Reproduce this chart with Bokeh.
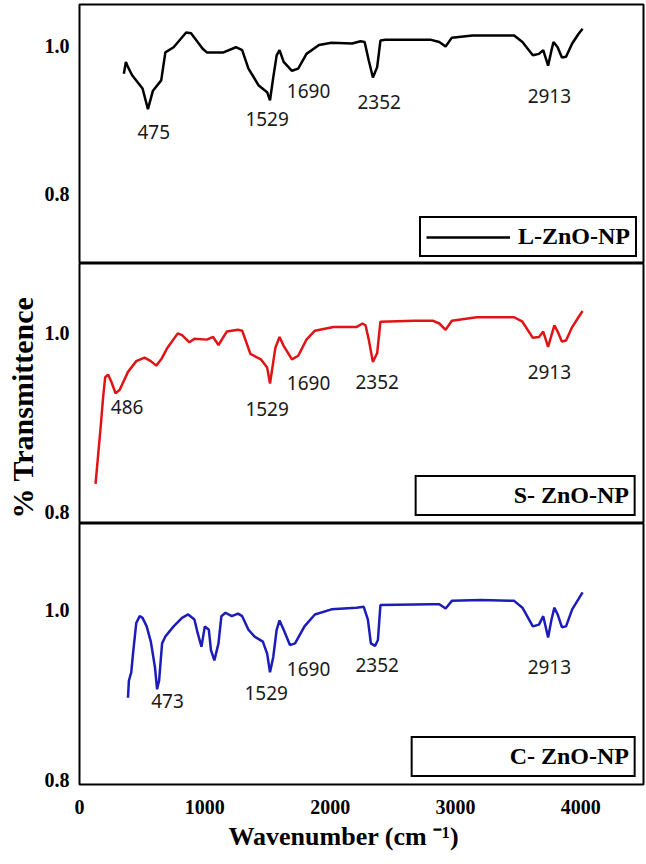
from bokeh.plotting import figure
from bokeh.layouts import column
from bokeh.models import (Legend, LegendItem, FixedTicker, Range1d, Title,
                          ColumnDataSource, LabelSet, PrintfTickFormatter)
from bokeh.embed import file_html
from bokeh.resources import INLINE
from bokeh.core.properties import value

# ---------------- data ----------------
l_wn = [354, 370, 387, 420, 503, 546, 586, 652, 685, 751,
        851, 890, 983, 1016, 1149, 1248, 1298, 1348, 1430, 1497,
        1520, 1546, 1573, 1596, 1629, 1695, 1745, 1811, 1911, 2010,
        2176, 2242, 2275, 2308, 2341, 2375, 2401, 2441, 2805, 2871,
        2921, 2971, 3136, 3468, 3534, 3617, 3666, 3700, 3739, 3766,
        3782, 3815, 3849, 3882, 3931, 3981, 4014]
l_t = [0.963, 0.979, 0.972, 0.961, 0.943, 0.915, 0.940, 0.954, 0.992, 0.999,
       1.019, 1.018, 0.997, 0.992, 0.992, 0.999, 0.995, 0.970, 0.947, 0.938,
       0.927, 0.958, 0.988, 0.995, 0.979, 0.967, 0.970, 0.990, 1.002, 1.005,
       1.004, 1.007, 1.006, 0.981, 0.958, 0.972, 1.008, 1.009, 1.009, 1.006,
       1.000, 1.012, 1.015, 1.015, 1.006, 0.988, 0.990, 0.995, 0.974, 0.995,
       1.006, 0.999, 0.985, 0.986, 1.004, 1.017, 1.024]

s_wn = [128, 148, 171, 188, 205, 228, 254, 288, 321, 387,
        453, 519, 569, 612, 652, 702, 784, 818, 877, 917,
        1016, 1066, 1109, 1175, 1265, 1298, 1364, 1447, 1497, 1520,
        1563, 1596, 1629, 1695, 1745, 1811, 1878, 2027, 2209, 2258,
        2282, 2308, 2341, 2375, 2401, 2673, 2822, 2871, 2921, 2971,
        3169, 3468, 3534, 3617, 3666, 3700, 3739, 3766, 3789, 3815,
        3849, 3882, 3931, 3981, 4014]
s_t = [0.832, 0.863, 0.899, 0.928, 0.951, 0.954, 0.946, 0.933, 0.937, 0.957,
       0.969, 0.973, 0.969, 0.964, 0.971, 0.984, 1.000, 0.998, 0.990, 0.994,
       0.993, 0.996, 0.987, 1.002, 1.004, 1.003, 0.977, 0.971, 0.962, 0.944,
       0.984, 0.996, 0.986, 0.971, 0.975, 0.993, 1.003, 1.007, 1.007, 1.011,
       1.009, 0.993, 0.968, 0.978, 1.013, 1.014, 1.014, 1.011, 1.004, 1.014,
       1.018, 1.018, 1.013, 0.995, 0.996, 1.002, 0.985, 0.998, 1.009, 1.002,
       0.991, 0.992, 1.007, 1.018, 1.025]

c_wn = [387, 394, 413, 427, 453, 480, 503, 536, 569, 602,
        619, 635, 659, 685, 751, 818, 867, 917, 943, 973,
        1000, 1032, 1049, 1076, 1109, 1132, 1165, 1215, 1265, 1298,
        1348, 1397, 1463, 1497, 1520, 1546, 1573, 1596, 1629, 1679,
        1720, 1795, 1878, 2010, 2209, 2268, 2301, 2325, 2358, 2381,
        2401, 2805, 2871, 2921, 2971, 3202, 3468, 3534, 3617, 3666,
        3700, 3739, 3766, 3789, 3815, 3849, 3882, 3931, 3981, 4014]
c_t = [0.897, 0.917, 0.927, 0.949, 0.985, 0.993, 0.991, 0.981, 0.963, 0.933,
       0.907, 0.917, 0.961, 0.969, 0.981, 0.991, 0.995, 0.989, 0.973, 0.957,
       0.981, 0.977, 0.953, 0.941, 0.961, 0.993, 0.997, 0.993, 0.996, 0.993,
       0.977, 0.969, 0.963, 0.949, 0.927, 0.945, 0.977, 0.988, 0.977, 0.959,
       0.961, 0.981, 0.995, 1.001, 1.003, 1.004, 0.989, 0.961, 0.958, 0.965,
       1.006, 1.007, 1.007, 1.002, 1.011, 1.012, 1.011, 1.003, 0.981, 0.983,
       0.993, 0.968, 0.989, 1.003, 0.995, 0.980, 0.981, 1.001, 1.013, 1.021]

l_peak_text = ["475", "1529", "1690", "2352", "2913"]
l_peak_x = [592, 1497, 1828, 2391, 3749]
l_peak_y = [0.884, 0.902, 0.940, 0.925, 0.933]

s_peak_text = ["486", "1529", "1690", "2352", "2913"]
s_peak_x = [380, 1497, 1828, 2375, 3749]
s_peak_y = [0.918, 0.916, 0.945, 0.946, 0.957]

c_peak_text = ["473", "1529", "1690", "2352", "2913"]
c_peak_x = [702, 1490, 1828, 2375, 3749]
c_peak_y = [0.893, 0.903, 0.931, 0.935, 0.933]

series_names = ["L-ZnO-NP", "S- ZnO-NP", "C- ZnO-NP"]
x_ticks = [0, 1000, 2000, 3000, 4000]
y_ticks = [0.8, 1.0]
x_title = "Wavenumber (cm \u207b\u00b9)"
y_title = "% Transmittence"

SERIF = "Liberation Serif"
W = 645
LEFT = 79


def make_panel(height, y0, y1, border_top, border_bottom, xaxis):
    p = figure(width=W, height=height, output_backend="svg", toolbar_location=None,
               x_range=Range1d(0, 4500), y_range=Range1d(y0, y1),
               x_axis_location="below" if xaxis else None,
               min_border_left=LEFT, min_border_right=2,
               min_border_top=border_top, min_border_bottom=border_bottom,
               title=None)
    p.xgrid.visible = False
    p.ygrid.visible = False
    p.outline_line_color = "black"
    p.outline_line_width = 2
    p.background_fill_color = "white"
    p.border_fill_color = "white"
    p.yaxis.ticker = FixedTicker(ticks=y_ticks)
    p.yaxis.formatter = PrintfTickFormatter(format="%.1f")
    for ax in p.yaxis + (p.xaxis if xaxis else []):
        ax.major_tick_line_color = None
        ax.minor_tick_line_color = None
        ax.axis_line_color = None
        ax.major_label_text_font = SERIF
        ax.major_label_text_font_style = "bold"
        ax.major_label_text_font_size = "20px"
        ax.major_label_text_color = "black"
    p.yaxis.major_label_standoff = 4
    if xaxis:
        p.xaxis.ticker = FixedTicker(ticks=x_ticks)
        p.xaxis.major_label_standoff = 9
    return p


def add_peaks(p, txt, xs, ys):
    src = ColumnDataSource(dict(x=xs, y=ys, t=txt))
    p.add_layout(LabelSet(x="x", y="y", text="t", source=src,
                          text_font=value("Noto Sans"), text_font_size="19px",
                          text_align="center", text_baseline="middle",
                          text_color="#1a1a1a"))


def add_legend(p, items, margin):
    lg = Legend(items=items, location="bottom_right", margin=margin, padding=5,
                glyph_width=84, glyph_height=20, label_standoff=8,
                border_line_color="black", border_line_width=2,
                border_line_alpha=1.0,
                label_text_font=SERIF, label_text_font_style="bold",
                label_text_font_size="24px", label_text_color="black",
                background_fill_color="white", background_fill_alpha=1)
    p.add_layout(lg)


# Panel 1 (L)
p1 = make_panel(263, 0.7054, 1.057, 4, 0, False)
r1 = p1.line(l_wn, l_t, line_color="black", line_width=2.5)
add_peaks(p1, l_peak_text, l_peak_x, l_peak_y)
add_legend(p1, [LegendItem(label=series_names[0], renderers=[r1])], 6)

# Panel 2 (S)
p2 = make_panel(260, 0.7877, 1.078, 0, 0, False)
r2 = p2.line(s_wn, s_t, line_color="#e01414", line_width=2.5)
r2leg = p2.line([], [], line_color="#a81c1c", line_width=3)
add_peaks(p2, s_peak_text, s_peak_x, s_peak_y)
add_legend(p2, [LegendItem(label=series_names[1], renderers=[r2leg])], 7)
p2.add_layout(Title(text=y_title, align="left", offset=5, standoff=6,
                    text_font=SERIF, text_font_style="bold",
                    text_font_size="30px", text_color="black"), "left")

# Panel 3 (C)
p3 = make_panel(336, 0.795, 1.102, 0, 75, True)
r3 = p3.line(c_wn, c_t, line_color="#1c1cb8", line_width=2.5)
r3leg = p3.line([], [], line_color="#10108a", line_width=3)
add_peaks(p3, c_peak_text, c_peak_x, c_peak_y)
add_legend(p3, [LegendItem(label=series_names[2], renderers=[r3leg])], 7)
p3.add_layout(Title(text=x_title, align="left", offset=149, standoff=6,
                    text_font=SERIF, text_font_style="bold",
                    text_font_size="26px", text_color="black"), "below")

layout = column(p1, p2, p3, spacing=0)
open("out.html", "w").write(file_html(layout, INLINE))
